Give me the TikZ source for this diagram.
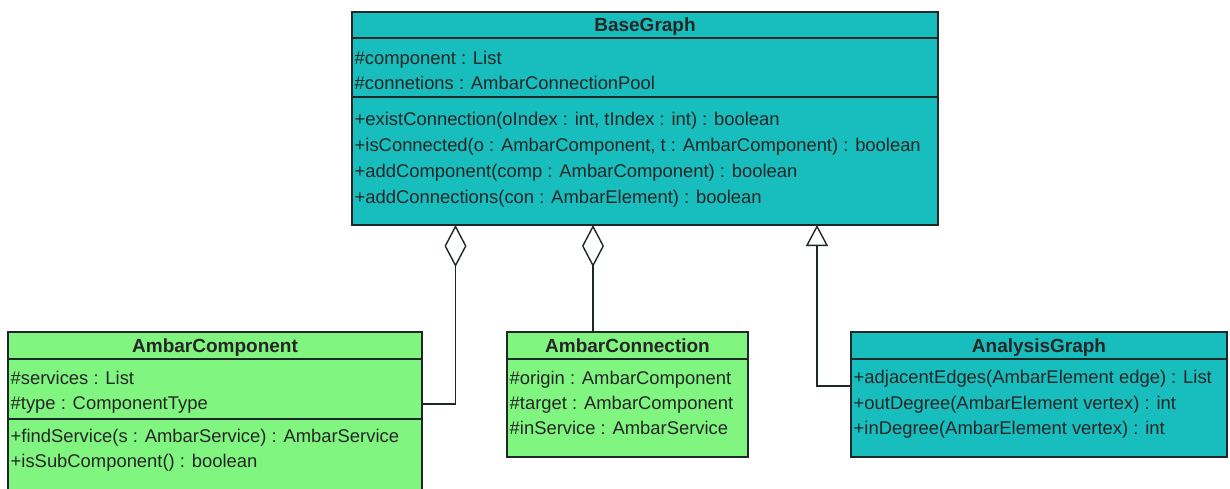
\documentclass[tikz,border=0pt]{standalone}
\usepackage{fontspec}
\setmainfont{Liberation Sans}
\usetikzlibrary{arrows.meta}
\definecolor{tealfill}{RGB}{24,190,190}
\definecolor{greenfill}{RGB}{128,245,128}
\definecolor{edgecol}{RGB}{30,40,40}
\tikzset{
  classbox/.style={draw=edgecol, line width=1.4pt, inner sep=0pt, outer sep=0pt, rectangle},
  tealbox/.style={classbox, fill=tealfill},
  greenbox/.style={classbox, fill=greenfill},
  ttl/.style={font=\fontsize{19}{22}\selectfont\bfseries, inner sep=0pt, anchor=base, text=black!85},
  mem/.style={font=\fontsize{18.4}{22}\selectfont, inner sep=0pt, anchor=base west, text=black!85},
  sepline/.style={draw=edgecol, line width=1.4pt},
  conn/.style={draw=edgecol, line width=1.4pt},
  aggr/.style={conn, -{Diamond[open, length=42pt, width=22pt, line width=1.4pt]}},
  inh/.style={conn, -{Triangle[open, length=21pt, width=22pt, line width=1.4pt]}}
}
\begin{document}
\begin{tikzpicture}[x=1pt, y=-1pt]
\path[use as bounding box] (0,0) rectangle (1230,489);
\clip (0,0) rectangle (1230,489);
\fill[white] (0,0) rectangle (1230,489);

% ---------- BaseGraph ----------
\node[tealbox, minimum width=586pt, minimum height=213pt] (bg) at (645,118.5) {};
\node[ttl] (bgT) at (645,31.5) {BaseGraph};
\draw[sepline] (bg.west |- 0,38) -- (bg.east |- 0,38);
\node[mem] (bgA1) at (354.5,64.5) {\#component : List};
\node[mem] (bgA2) at (354.5,89.5) {\#connetions : AmbarConnectionPool};
\draw[sepline] (bg.west |- 0,97) -- (bg.east |- 0,97);
\node[mem] (bgM1) at (354.5,125.5) {+existConnection(oIndex : int, tIndex : int) : boolean};
\node[mem] (bgM2) at (354.5,151.5) {+isConnected(o : AmbarComponent, t : AmbarComponent) : boolean};
\node[mem] (bgM3) at (354.5,177.5) {+addComponent(comp : AmbarComponent) : boolean};
\node[mem] (bgM4) at (354.5,203.5) {+addConnections(con : AmbarElement) : boolean};

% ---------- AmbarComponent ----------
\node[greenbox, minimum width=414pt, minimum height=166pt] (ac) at (215,415) {};
\node[ttl] (acT) at (215,352.5) {AmbarComponent};
\draw[sepline] (ac.west |- 0,359) -- (ac.east |- 0,359);
\node[mem] (acA1) at (10.5,384) {\#services : List};
\node[mem] (acA2) at (10.5,409) {\#type : ComponentType};
\draw[sepline] (ac.west |- 0,419) -- (ac.east |- 0,419);
\node[mem] (acM1) at (10.5,442) {+findService(s : AmbarService) : AmbarService};
\node[mem] (acM2) at (10.5,467) {+isSubComponent() : boolean};

% ---------- AmbarConnection ----------
\node[greenbox, minimum width=241pt, minimum height=125pt] (acon) at (627.5,394.5) {};
\node[ttl] (aconT) at (627.5,352.5) {AmbarConnection};
\draw[sepline] (acon.west |- 0,359) -- (acon.east |- 0,359);
\node[mem] (aconA1) at (509.5,384.5) {\#origin : AmbarComponent};
\node[mem] (aconA2) at (509.5,409.5) {\#target : AmbarComponent};
\node[mem] (aconA3) at (509.5,434.5) {\#inService : AmbarService};

% ---------- AnalysisGraph ----------
\node[tealbox, minimum width=376pt, minimum height=125pt] (ag) at (1039,394.5) {};
\node[ttl] (agT) at (1039,352.5) {AnalysisGraph};
\draw[sepline] (ag.west |- 0,359) -- (ag.east |- 0,359);
\node[mem] (agM1) at (853.5,383.5) {+adjacentEdges(AmbarElement edge) : List};
\node[mem] (agM2) at (853.5,409.5) {+outDegree(AmbarElement vertex) : int};
\node[mem] (agM3) at (853.5,434.5) {+inDegree(AmbarElement vertex) : int};

% ---------- connectors ----------
\coordinate (bend1) at (455.5,404);
\coordinate (col2) at (593,0);
\coordinate (bend3) at (817,386);
\draw[aggr] (ac.east |- bend1) -- (bend1) -- (bend1 |- bg.south);
\draw[aggr] (acon.north -| col2) -- (bg.south -| col2);
\draw[inh] (ag.west |- bend3) -- (bend3) -- (bend3 |- bg.south);
\end{tikzpicture}
\end{document}
